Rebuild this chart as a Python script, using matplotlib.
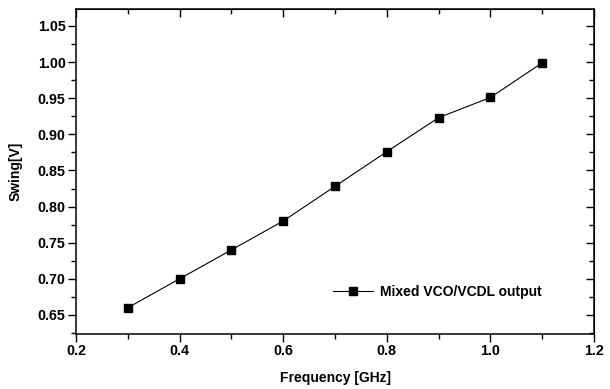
import matplotlib
matplotlib.use("Agg")
import matplotlib.pyplot as plt
from matplotlib.ticker import MultipleLocator, FormatStrFormatter

freq = [0.3, 0.4, 0.5, 0.6, 0.7, 0.8, 0.9, 1.0, 1.1]
swing = [0.660, 0.700, 0.740, 0.780, 0.828, 0.876, 0.923, 0.951, 0.999]
series_label = "Mixed VCO/VCDL output"
x_label = "Frequency [GHz]"
y_label = "Swing[V]"

plt.rcParams['font.family'] = ['Liberation Sans', 'DejaVu Sans']
plt.rcParams['font.weight'] = 'bold'

fig = plt.figure(figsize=(6.10, 3.89), dpi=100)
ax = fig.add_axes([76/610, 1-333.7/389, (594-76)/610, (333.7-9)/389])

ax.plot(freq, swing, color='black', lw=0.8, marker='s', ms=5.8,
        markerfacecolor='black', markeredgecolor='black', label=series_label)

ax.set_xlim(0.2, 1.2)
ax.set_ylim(0.624, 1.0735)
ax.xaxis.set_major_locator(MultipleLocator(0.2))
ax.xaxis.set_minor_locator(MultipleLocator(0.1))
ax.yaxis.set_major_locator(MultipleLocator(0.05))
ax.yaxis.set_minor_locator(MultipleLocator(0.025))
ax.xaxis.set_major_formatter(FormatStrFormatter('%.1f'))
ax.yaxis.set_major_formatter(FormatStrFormatter('%.2f'))

for s in ax.spines.values():
    s.set_linewidth(1.1)

ax.tick_params(which='both', direction='out', bottom=True, left=True, top=False, right=False, width=1.0)
ax.tick_params(which='major', length=5.5, labelsize=10.3, pad=2)
ax.tick_params(which='minor', length=3.5)

# Mirrored inward ticks on top and right
ax2 = ax.secondary_xaxis('top')
ax2.xaxis.set_major_locator(MultipleLocator(0.2))
ax2.xaxis.set_minor_locator(MultipleLocator(0.1))
ax2.tick_params(which='both', direction='in', labeltop=False, width=1.0)
ax2.tick_params(which='major', length=5.5)
ax2.tick_params(which='minor', length=3.5)
ax3 = ax.secondary_yaxis('right')
ax3.yaxis.set_major_locator(MultipleLocator(0.05))
ax3.yaxis.set_minor_locator(MultipleLocator(0.025))
ax3.tick_params(which='both', direction='in', labelright=False, width=1.0)
ax3.tick_params(which='major', length=5.5)
ax3.tick_params(which='minor', length=3.5)

for lab in ax.get_xticklabels() + ax.get_yticklabels():
    lab.set_fontweight('bold')

ax.set_xlabel(x_label, fontsize=10, fontweight='bold', labelpad=9)
ax.set_ylabel(y_label, fontsize=10, fontweight='bold', labelpad=11)

leg = ax.legend(loc='lower right', bbox_to_anchor=(0.91, 0.089), frameon=False,
                prop={'weight': 'bold', 'size': 10}, handlelength=2.9,
                handletextpad=0.5, borderaxespad=0)

fig.savefig("out.png", dpi=100)
